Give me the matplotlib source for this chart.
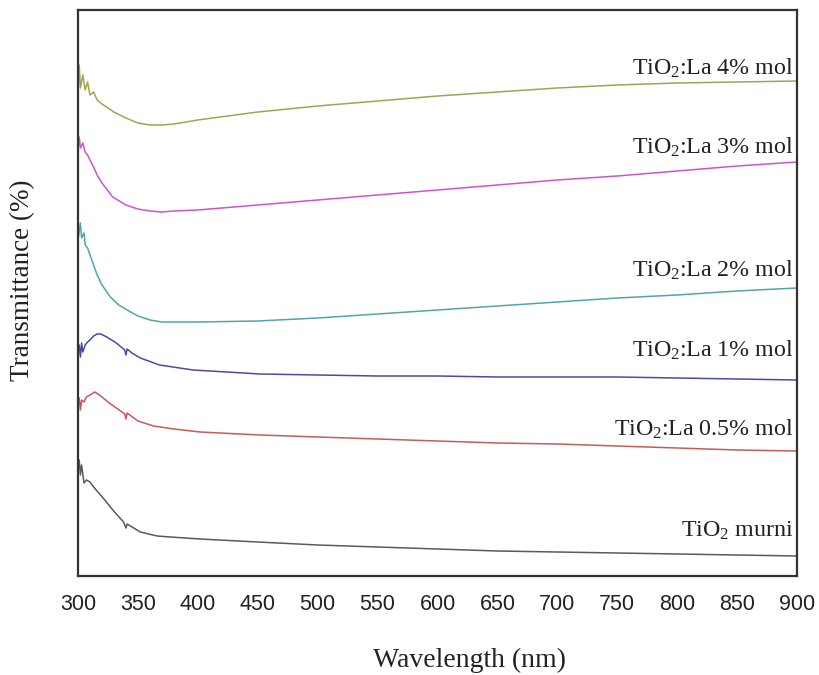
import numpy as np
import matplotlib
matplotlib.use('Agg')
import matplotlib.pyplot as plt

plt.rcParams['font.family'] = 'Liberation Serif'
plt.rcParams['mathtext.fontset'] = 'custom'
plt.rcParams['mathtext.rm'] = 'Liberation Serif'
plt.rcParams['mathtext.default'] = 'regular'

# transmittance in arbitrary (offset) units
wl_la4 = [300,301,302,304,306,308,310,313,316,320,330,340,350,360,370,380,400,450,500,550,600,650,700,750,800,850,900]
t_la4 = [485,510,487,500,485,493,480,483,475,471,463,457,452,450,450,451,455,463,469,474,479,483,487,490,492,493,494]

wl_la3 = [300,301,302,304,306,308,310,313,316,320,329,340,350,360,370,380,400,450,500,550,600,650,700,750,800,850,900]
t_la3 = [425,438,427,432,423,420,415,408,400,392,378,370,366,364,363,364,365,370,375,380,385,390,395,399,404,409,413]

wl_la2 = [300,301,302,303,305,306,308,310,313,316,320,327,334,341,350,360,370,400,450,500,550,600,650,700,750,800,850,900]
t_la2 = [335,343,352,337,342,330,327,320,310,300,290,278,270,265,259,255,253,253,254,257,261,265,269,273,277,280,284,287]

wl_la1 = [300,301,302,303,304,306,308,310,313,316,319,324,332,339,340,341,345,352,368,396,452,500,550,600,650,700,750,800,850,900]
t_la1 = [225,230,218,232,223,230,233,235,239,241,241,238,232,225,220,226,222,217,210,205,201,200,199,199,198,198,198,197,196,195]

wl_la05 = [300,301,302,303,305,307,310,314,318,325,332,339,340,341,350,363,380,402,452,500,550,600,650,700,750,800,850,900]
t_la05 = [170,177,165,175,173,178,180,183,180,173,167,161,156,162,154,149,146,143,140,138,136,134,132,131,129,127,125,124]

wl_pure = [300,301,302,303,305,307,310,313,321,329,338,340,341,352,366,377,402,450,500,550,600,650,700,750,800,850,900]
t_pure = [105,115,100,110,92,95,93,88,77,65,53,47,51,43,39,38,36,33,30,28,26,24,23,22,21,20,19]

series = [
    (wl_la4, t_la4, '#a3a352', r'TiO$_2$:La 4% mol', 500),
    (wl_la3, t_la3, '#d152d1', r'TiO$_2$:La 3% mol', 421),
    (wl_la2, t_la2, '#4fa7a7', r'TiO$_2$:La 2% mol', 298),
    (wl_la1, t_la1, '#4a4aa8', r'TiO$_2$:La 1% mol', 218),
    (wl_la05, t_la05, '#c85a5a', r'TiO$_2$:La 0.5% mol', 139),
    (wl_pure, t_pure, '#5a5a5a', r'TiO$_2$ murni', 38),
]

fig = plt.figure(figsize=(8.2, 6.75), dpi=100)
ax = fig.add_axes([78/820, 1-576/675, 719/820, 566/675])

for wl, t, col, lab, ly in series:
    ax.plot(wl, t, color=col, lw=1.1)
    ax.text(897, ly, lab, ha='right', va='baseline', fontsize=17.3, color='#222222')

ax.set_xlim(300, 900)
ax.set_ylim(-1, 565)
ax.set_xticks(np.arange(300, 901, 50))
ax.set_yticks([])
ax.tick_params(axis='x', length=0, pad=13, labelsize=15.5, labelcolor='#222222')
for lbl in ax.get_xticklabels():
    lbl.set_family('Liberation Sans')
for sp in ax.spines.values():
    sp.set_linewidth(1.6)
    sp.set_color('#333333')

fig.text(470/820, 1-660/675, 'Wavelength (nm)', ha='center', va='center', fontsize=20, color='#222222')
fig.text(23/820, 1-280/675, 'Transmittance (%)', ha='center', va='center', rotation=90, fontsize=19.5, color='#222222')

fig.savefig('out.png', dpi=100)
